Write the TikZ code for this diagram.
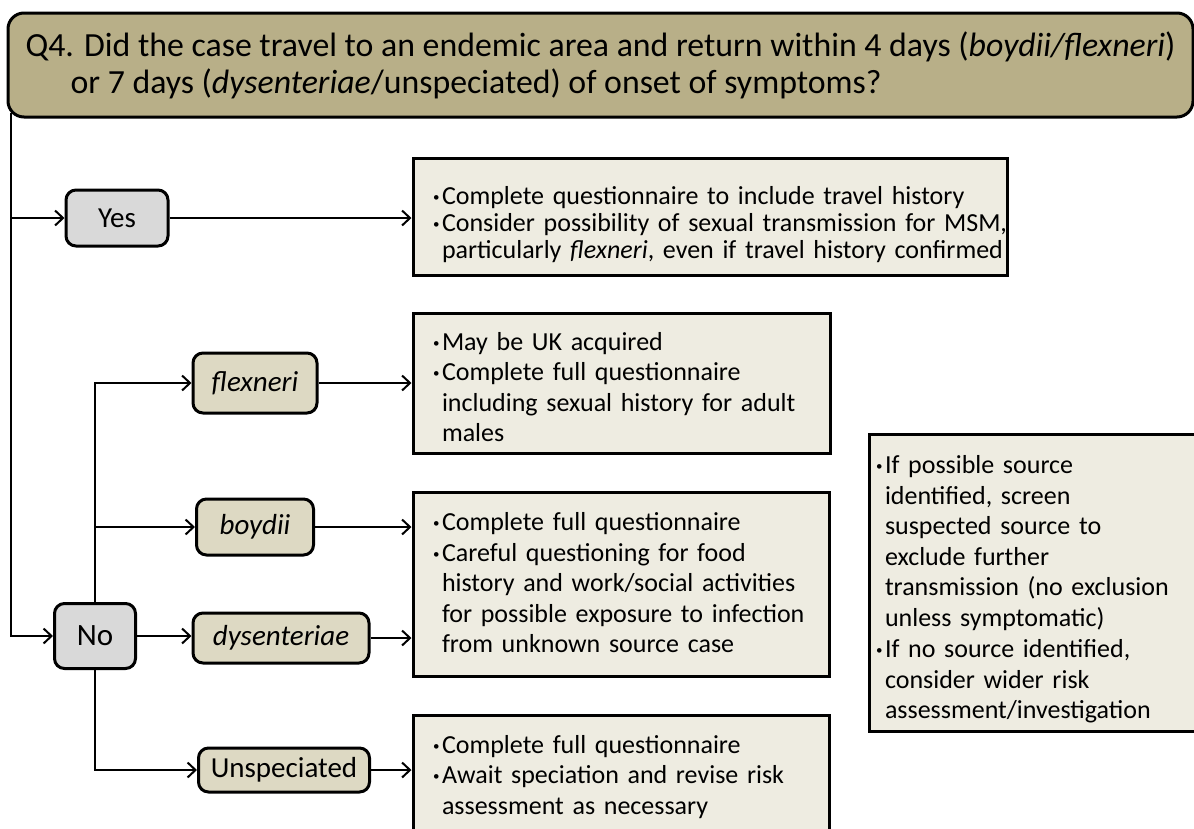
\documentclass[tikz,border=0pt]{standalone}
\usepackage{fontspec}
\setmainfont{Carlito}
\usepackage{xcolor}
\usepackage{tikz}
\usetikzlibrary{arrows.meta,positioning,calc}

\definecolor{qfill}{HTML}{B8AF88}
\definecolor{ansfill}{HTML}{D9D9D9}
\definecolor{spfill}{HTML}{DDD9C3}
\definecolor{notefill}{HTML}{EEECE1}

\newcommand{\bitem}[1]{\makebox[9pt][l]{\raisebox{3pt}{\fontsize{13}{13}\selectfont\textbullet}}%
  \begin{tabular}[t]{@{}l@{}}#1\end{tabular}}

\begin{document}
\begin{tikzpicture}[x=1pt,y=-1pt,>={Straight Barb[length=8pt,width=15pt]},
  question/.style={draw,line width=3pt,rounded corners=16pt,fill=qfill,
    align=left,inner sep=2pt,font=\fontsize{33.8}{37}\selectfont},
  answer/.style={draw,line width=3pt,rounded corners=10pt,fill=ansfill,
    inner sep=2pt,font=\fontsize{29}{31}\selectfont},
  species/.style={answer,fill=spfill},
  note/.style={draw,line width=3pt,fill=notefill,align=left,inner xsep=20pt,
    inner ysep=2pt,font=\fontsize{26}{30.5}\selectfont},
  link/.style={->,line width=2pt}]
  \useasboundingbox (0,0) rectangle (1194,828);

  % question
  \node[question,minimum width=1185pt,minimum height=104pt] (q4) at (600.5,65)
    {Q4. Did the case travel to an endemic area and return within 4 days (\textit{boydii/flexneri})\\
     \hspace*{45pt}or 7 days (\textit{dysenteriae}/unspeciated) of onset of symptoms?};

  % answers and species
  \node[answer,minimum width=102pt,minimum height=56pt] (yes) at (117,218) {Yes};
  \node[answer,minimum width=81pt,minimum height=65pt,font=\fontsize{31}{33}\selectfont] (no) at (95,636) {No};
  \node[species,minimum width=124pt,minimum height=60pt] (flex) at (255,383) {\textit{flexneri}};
  \node[species,minimum width=117pt,minimum height=56pt] (boyd) at (255,527) {\textit{boydii}};
  \node[species,minimum width=176pt,minimum height=50pt] (dys) at (281,638) {\textit{dysenteriae}};
  \node[species,minimum width=171pt,minimum height=44pt] (unsp) at (284,770) {Unspeciated};

  % actions
  \node[note,minimum width=594pt,minimum height=117pt,text width=554pt,
    font=\fontsize{26}{27}\selectfont] (yesnote) at (710,216.5)
    {\rule{0pt}{39pt}\bitem{Complete questionnaire to include travel history}\\
     \bitem{Consider possibility of sexual transmission for MSM,\\
       particularly \textit{flexneri}, even if travel history confirmed}};
  \node[note,minimum width=417pt,minimum height=140pt,text width=377pt] (flexnote) at (621.5,383)
    {\rule{0pt}{35pt}\bitem{May be UK acquired}\\
     \bitem{Complete full questionnaire\\including sexual history for adult\\males}};
  \node[note,minimum width=416pt,minimum height=184pt,text width=376pt] (bdnote) at (621,584)
    {\rule{0pt}{25pt}\bitem{Complete full questionnaire}\\
     \bitem{Careful questioning for food\\history and work/social activities\\
       for possible exposure to infection\\from unknown source case}};
  \node[note,minimum width=416pt,minimum height=125pt,text width=376pt] (unspnote) at (621,777.5)
    {\bitem{Complete full questionnaire}\\
     \bitem{Await speciation and revise risk\\assessment as necessary}};
  \node[note,minimum width=336pt,minimum height=297pt,inner xsep=7pt,text width=322pt] (srcnote) at (1037,582.5)
    {\rule{0pt}{37pt}\bitem{If possible source\\identified, screen\\suspected source to\\exclude further\\
       transmission (no exclusion\\unless symptomatic)}\\
     \bitem{If no source identified,\\consider wider risk\\assessment/investigation}};

  % connectors
  \coordinate (spinetop) at ([xshift=4pt,yshift=6pt]q4.south west);
  \draw[link] (spinetop) |- (yes.west);
  \draw[link] (spinetop) |- (no.west);
  \draw[link] (yes.east) -- (yes.east -| yesnote.west);
  \draw[link] (no.north) |- (flex.west);
  \draw[link] (no.north |- boyd.west) -- (boyd.west);
  \draw[link] (no.east) -- (no.east -| dys.west);
  \draw[link] (no.south) |- (unsp.west);
  \draw[link] (flex.east) -- (flex.east -| flexnote.west);
  \draw[link] (boyd.east) -- (boyd.east -| bdnote.west);
  \draw[link] (dys.east) -- (dys.east -| bdnote.west);
  \draw[link] (unsp.east) -- (unsp.east -| unspnote.west);
\end{tikzpicture}
\end{document}
